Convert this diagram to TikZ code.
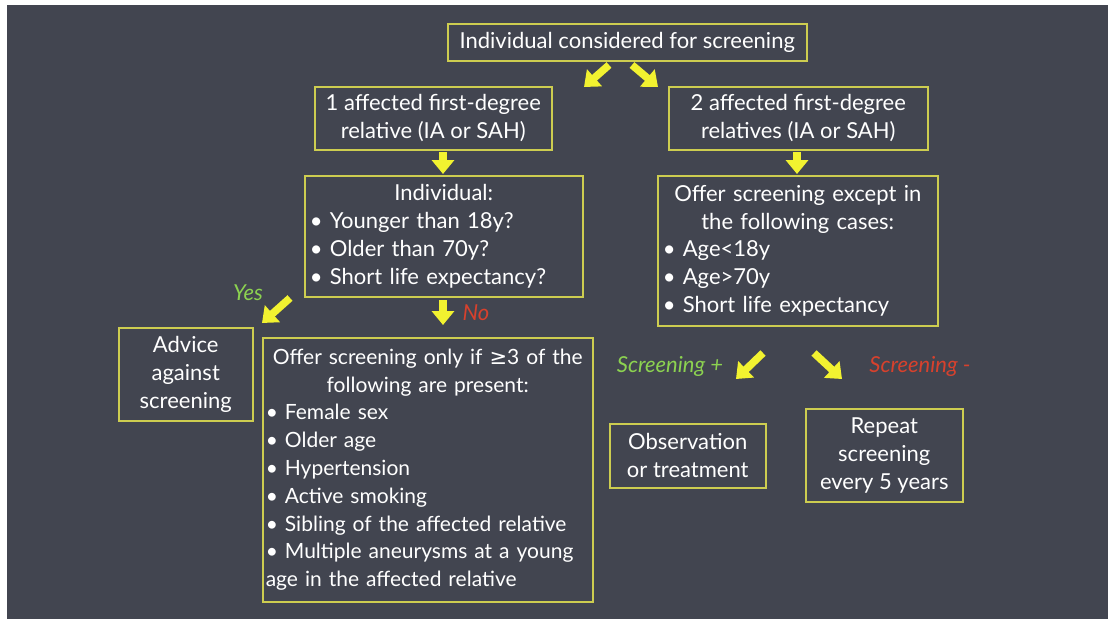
\documentclass[tikz,border=0pt]{standalone}
\usepackage{fontspec}
\setmainfont{Lato}
\newfontfamily\symfont{DejaVu Sans}
\usetikzlibrary{arrows.meta}
\definecolor{bg}{RGB}{66,69,80}
\definecolor{boxline}{RGB}{205,205,80}
\definecolor{arrowyel}{RGB}{242,242,48}
\definecolor{yesgreen}{RGB}{140,210,80}
\definecolor{nored}{RGB}{215,65,45}
\tikzset{
  box/.style={draw=boxline, line width=1.5pt, text=white, font=\fontsize{22}{27.8}\selectfont,
    anchor=north west, inner sep=5pt, align=center},
  bigarrow/.style={draw=arrowyel, line width=7.5pt,
    -{Triangle[width=22pt,length=14pt]}, arrowyel},
  lab/.style={font=\fontsize{22}{24}\selectfont\itshape}
}
\begin{document}
\begin{tikzpicture}[x=1pt,y=-1pt]
\useasboundingbox (0,0) rectangle (1108,619);
\fill[white] (0,0) rectangle (1108,619);
\fill[bg] (7,5) rectangle (1108,619);

\node[box, minimum width=359pt, minimum height=37pt, inner sep=2pt] (top) at (447,23) {Individual considered for screening};
\node[box, minimum width=237pt, minimum height=63pt] (one) at (314,86) {1 affected first-degree\\relative (IA or SAH)};
\node[box, minimum width=259pt, minimum height=63pt] (two) at (668,86) {2 affected first-degree\\relatives (IA or SAH)};
\node[box, text width=268pt, minimum height=121pt, align=left, inner ysep=2pt] (ind) at (304,175)
  {\centering Individual:\par\raggedright
   • Younger than 18y?\par
   • Older than 70y?\par
   • Short life expectancy?};
\node[box, text width=270pt, minimum height=150pt, align=left, inner ysep=2pt] (exc) at (657,175)
  {\centering Offer screening except in\par the following cases:\par\raggedright
   • Age<18y\par
   • Age>70y\par
   • Short life expectancy};
\node[box, minimum width=134pt, minimum height=93pt] (adv) at (118,327) {Advice\\against\\screening};
\node[box, text width=324pt, minimum height=264pt, align=left, inner xsep=3pt, inner ysep=2pt,
      font=\fontsize{21}{27.8}\selectfont] (only) at (262,337)
  {\centering Offer screening only if {\symfont ≥}3 of the\par following are present:\par\raggedright
   • Female sex\par
   • Older age\par
   • Hypertension\par
   • Active smoking\par
   • Sibling of the affected relative\par
   • Multiple aneurysms at a young\par
   age in the affected relative};
\node[box, minimum width=156pt, minimum height=64pt] (obs) at (609,423) {Observation\\or treatment};
\node[box, minimum width=157pt, minimum height=93pt] (rep) at (805,408) {Repeat\\screening\\every 5 years};

\coordinate (a1s) at (609,65); \coordinate (a1e) at (584,87);
\coordinate (a2s) at (632,65); \coordinate (a2e) at (658,87);
\coordinate (a3s) at (443,152); \coordinate (a3e) at (443,174);
\coordinate (a4s) at (797,152); \coordinate (a4e) at (797,174);
\coordinate (a5s) at (290,298); \coordinate (a5e) at (262,323);
\coordinate (a6s) at (443,300); \coordinate (a6e) at (443,325);
\coordinate (a7s) at (763,353); \coordinate (a7e) at (736,379);
\coordinate (a8s) at (814,353); \coordinate (a8e) at (842,379);
\draw[bigarrow] (a1s) -- (a1e);
\draw[bigarrow] (a2s) -- (a2e);
\draw[bigarrow] (a3s) -- (a3e);
\draw[bigarrow] (a4s) -- (a4e);
\draw[bigarrow] (a5s) -- (a5e);
\draw[bigarrow] (a6s) -- (a6e);
\draw[bigarrow] (a7s) -- (a7e);
\draw[bigarrow] (a8s) -- (a8e);

\node[lab, text=yesgreen] (yes) at (248,293) {Yes};
\node[lab, text=nored] (no) at (476,313) {No};
\node[lab, text=yesgreen] (sp) at (670,366) {Screening +};
\node[lab, text=nored] (sm) at (920,366) {Screening -};
\end{tikzpicture}
\end{document}
